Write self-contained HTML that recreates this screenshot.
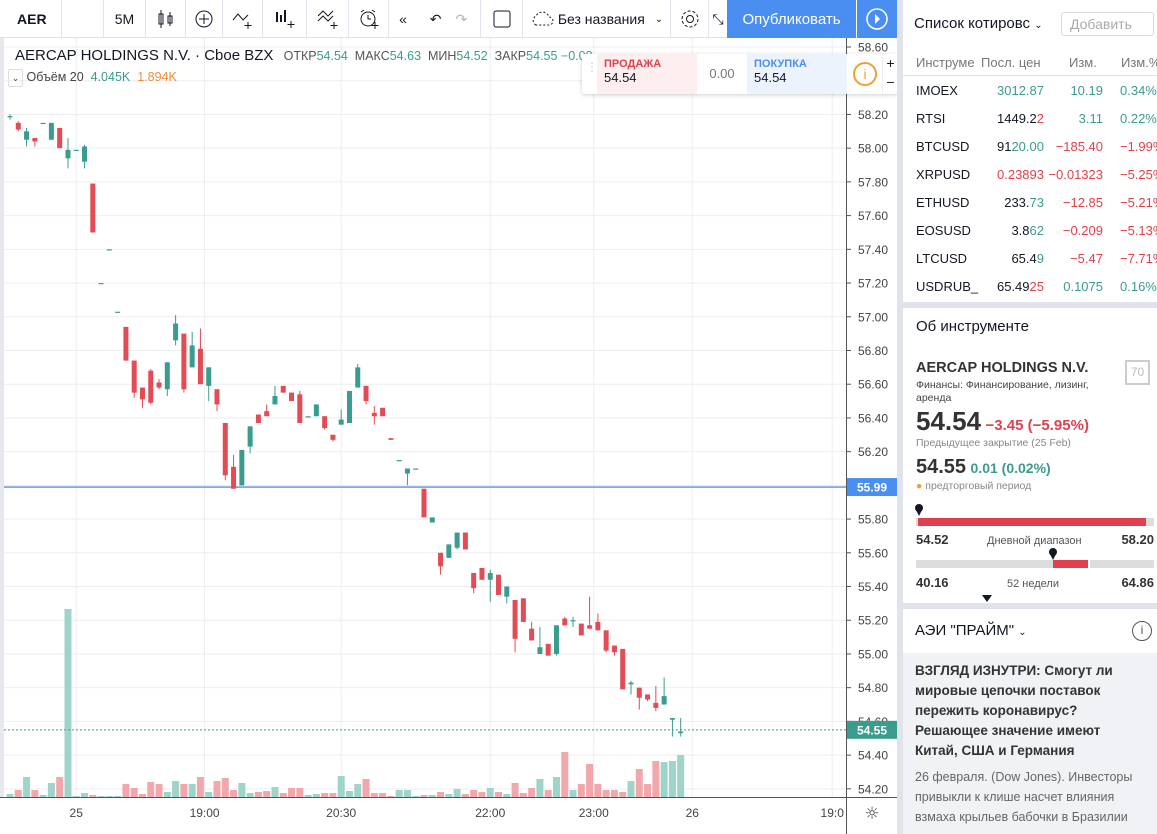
<!DOCTYPE html>
<html><head><meta charset="utf-8">
<style>
*{box-sizing:border-box;margin:0;padding:0}
body{width:1157px;height:834px;overflow:hidden;background:#fff;font-family:"Liberation Sans","Noto Sans CJK SC",sans-serif;color:#131722;position:relative}
.abs{position:absolute}
#toolbar{left:0;top:0;width:897px;height:38px;border-bottom:1px solid #e0e3eb;background:#fff}
.tb{position:absolute;top:0;height:38px;display:flex;align-items:center;justify-content:center;font-size:14px;color:#131722;border-right:1px solid #e0e3eb}
.sep{background:#e0e3eb}
.wl-row{position:absolute;left:0;width:257px;height:28px;font-size:13px}
.wl-row span{position:absolute;top:7px}
.g{color:#3a9c8e}.r{color:#e0414c}
</style></head><body>

<div id="toolbar" class="abs">
  <div class="tb" style="left:0;width:62px;font-weight:bold;justify-content:flex-start;padding-left:17px">AER</div>
  <div class="tb" style="left:103px;width:43px;border-left:1px solid #e0e3eb">5M</div>
  <div class="tb" style="left:146px;width:40px">
    <svg width="18" height="20"><rect x="2" y="5" width="4" height="10" fill="none" stroke="#131722"/><line x1="4" y1="1" x2="4" y2="19" stroke="#131722"/><rect x="11" y="7" width="4" height="7" fill="none" stroke="#131722"/><line x1="13" y1="3" x2="13" y2="17" stroke="#131722"/></svg></div>
  <div class="tb" style="left:186px;width:37px"><svg width="20" height="20"><circle cx="10" cy="10" r="8" fill="none" stroke="#131722"/><path d="M10 5v10M5 10h10" stroke="#131722"/></svg></div>
  <div class="tb" style="left:223px;width:40px"><svg width="24" height="22"><path d="M2 12l5-6 5 6 5-5" fill="none" stroke="#131722"/><path d="M17 14v7M13.5 17.5h7" stroke="#131722"/></svg></div>
  <div class="tb" style="left:263px;width:44px"><svg width="24" height="22"><path d="M4 4v10M8 7v7M12 2v12" stroke="#131722" stroke-width="2"/><path d="M18 13v7M14.5 16.5h7" stroke="#131722"/></svg></div>
  <div class="tb" style="left:307px;width:42px"><svg width="24" height="22"><path d="M2 8l5-5 5 5 5-5M2 13l5-5 5 5 5-5" fill="none" stroke="#131722"/><path d="M18 14v7M14.5 17.5h7" stroke="#131722"/></svg></div>
  <div class="tb" style="left:349px;width:40px"><svg width="22" height="22"><circle cx="10" cy="11" r="7" fill="none" stroke="#131722"/><path d="M3 4l3-2M17 4l-3-2M10 7v4h3" fill="none" stroke="#131722"/><path d="M17 14v7M13.5 17.5h7" stroke="#131722"/></svg></div>
  <div class="tb" style="left:389px;width:28px;border-right:none">«</div>
  <div class="tb" style="left:417px;width:64px;color:#131722"><span style="margin-right:14px">↶</span><span style="color:#b2b5be">↷</span></div>
  <div class="tb" style="left:481px;width:42px"><svg width="18" height="18"><rect x="1" y="1" width="16" height="16" rx="2" fill="none" stroke="#131722"/></svg></div>
  <div class="tb" style="left:523px;width:148px"><svg width="26" height="18"><path d="M6 15a5 5 0 0 1 0-9a7 7 0 0 1 13 1a4 4 0 0 1 0 8z" fill="none" stroke="#131722" stroke-dasharray="2 2"/></svg><span style="margin:0 10px 0 2px">Без названия</span><span style="font-size:10px">⌄</span></div>
  <div class="tb" style="left:671px;width:38px"><svg width="22" height="22"><circle cx="11" cy="11" r="3.5" fill="none" stroke="#131722"/><circle cx="11" cy="11" r="8" fill="none" stroke="#131722" stroke-dasharray="3 2"/></svg></div>
  <div class="tb" style="left:709px;width:18px;border-right:none">⤡</div>
  <div class="abs" style="left:727px;top:0;width:129px;height:38px;background:#4b8ef2;color:#fff;font-size:15px;display:flex;align-items:center;justify-content:center">Опубликовать</div>
  <div class="abs" style="left:857px;top:0;width:40px;height:38px;background:#4b8ef2;display:flex;align-items:center;justify-content:center"><svg width="24" height="24"><circle cx="12" cy="12" r="10" fill="none" stroke="#fff" stroke-width="1.5"/><path d="M10 7l5 5-5 5z" fill="#fff"/></svg></div>
</div>

<svg id="chart" class="abs" style="left:0;top:38px" width="897" height="796" viewBox="0 38 897 796"></svg>

<div class="abs" style="left:15px;top:47px;font-size:15px;white-space:nowrap">
  <span>AERCAP HOLDINGS N.V. · Cboe BZX</span>
  <span style="font-size:12.5px;color:#555;margin-left:6px">ОТКР<span class="g">54.54</span>&nbsp; МАКС<span class="g">54.63</span>&nbsp; МИН<span class="g">54.52</span>&nbsp; ЗАКР<span class="g">54.55</span> <span class="g">−0.08</span></span>
</div>
<div class="abs" style="left:8px;top:69px;font-size:12.5px;color:#444;white-space:nowrap">
  <span style="display:inline-block;width:15px;height:18px;border:1px solid #ddd;border-radius:2px;text-align:center;font-size:9px;line-height:16px">⌄</span> Объём 20 &nbsp;<span class="g">4.045K</span>&nbsp; <span style="color:#f28b3c">1.894K</span>
</div>

<div class="abs" style="left:582px;top:54px;width:316px;height:40px;background:#fff;box-shadow:0 1px 4px rgba(0,0,0,.2);border-radius:3px;font-size:12px">
  <div class="abs" style="left:4px;top:6px;color:#ccc;font-size:12px">⋮</div>
  <div class="abs" style="left:15px;top:0;width:100px;height:40px;background:#fdeef0;padding:4px 7px"><div style="color:#e0414c;font-weight:bold;font-size:11px">ПРОДАЖА</div><div style="font-size:13px">54.54</div></div>
  <div class="abs" style="left:115px;top:12px;width:50px;text-align:center;color:#777;font-size:13px">0.00</div>
  <div class="abs" style="left:165px;top:0;width:100px;height:40px;background:#ecf3fd;padding:4px 7px"><div style="color:#4b8ef2;font-weight:bold;font-size:11px">ПОКУПКА</div><div style="font-size:13px">54.54</div></div>
  <div class="abs" style="left:271px;top:8px;width:24px;height:24px;border:2px solid #f0a030;border-radius:50%;color:#f0a030;text-align:center;font-size:14px;line-height:20px">i</div>
  <div class="abs" style="left:300px;top:0;width:16px;height:40px;border-left:1px solid #eee;font-size:14px;text-align:center;line-height:19px">+<br>−</div>
</div>

<!-- right panel -->
<div class="abs sep" style="left:897px;top:0;width:6px;height:834px"></div>
<div class="abs" style="left:903px;top:0;width:254px;height:302px;background:#fff">
  <div class="abs" style="left:11px;top:15px;font-size:15px;white-space:nowrap">Список котировс <span style="font-size:10px">⌄</span></div>
  <div class="abs" style="left:158px;top:12px;width:93px;height:24px;border:1px solid #d6d8de;border-radius:3px;color:#aaa;font-size:14px;padding:3px 8px">Добавить</div>
  <div class="abs" style="left:0;top:48px;width:254px;height:28px;border-bottom:1px solid #e0e3eb;font-size:13px;color:#777">
    <span class="abs" style="left:13px;top:7px">Инструме</span><span class="abs" style="left:78px;top:7px">Посл. цен</span><span class="abs" style="left:166px;top:7px">Изм.</span><span class="abs" style="left:218px;top:7px">Изм.%</span>
  </div>
  <div id="wl"></div>
</div>
<div class="abs sep" style="left:903px;top:302px;width:254px;height:6px"></div>
<div class="abs" style="left:903px;top:308px;width:254px;height:295px;background:#fff">
  <div class="abs" style="left:13px;top:10px;font-size:15px">Об инструменте</div>
  <div class="abs" style="left:13px;top:52px;font-size:14.5px;font-weight:bold;color:#333">AERCAP HOLDINGS N.V.</div>
  <div class="abs" style="left:222px;top:52px;width:25px;height:25px;border:2px solid #ccc;color:#bbb;font-size:12px;text-align:center;line-height:21px">70</div>
  <div class="abs" style="left:13px;top:71px;font-size:10.5px;color:#444;line-height:13px;width:200px">Финансы: Финансирование, лизинг, аренда</div>
  <div class="abs" style="left:13px;top:98px;white-space:nowrap"><span style="font-size:26px;font-weight:bold;color:#333">54.54</span> <span style="font-size:15px;font-weight:bold;color:#e0414c">−3.45 (−5.95%)</span></div>
  <div class="abs" style="left:13px;top:129px;font-size:10.5px;color:#888">Предыдущее закрытие (25 Feb)</div>
  <div class="abs" style="left:13px;top:148px;white-space:nowrap"><span style="font-size:20px;font-weight:bold;color:#333">54.55</span> <span style="font-size:14px;font-weight:bold;color:#3a9c8e">0.01 (0.02%)</span></div>
  <div class="abs" style="left:13px;top:172px;font-size:10.5px;color:#888"><span style="color:#f0a030">●</span> предторговый период</div>
  <svg class="abs" style="left:0;top:190px" width="254" height="105">
    <circle cx="16" cy="10" r="4" fill="#131722"/><path d="M13 12l3 6 3-6z" fill="#131722"/>
    <rect x="13" y="20" width="238" height="8" fill="#ddd"/><rect x="15" y="20" width="228" height="8" fill="#e0414c"/>
    <text x="13" y="46" font-size="13" font-weight="bold" fill="#333" font-family="Liberation Sans">54.52</text>
    <text x="84" y="46" font-size="11" fill="#555" font-family="Liberation Sans">Дневной диапазон</text>
    <text x="251" y="46" font-size="13" font-weight="bold" fill="#333" text-anchor="end" font-family="Liberation Sans">58.20</text>
    <circle cx="150" cy="54" r="4" fill="#131722"/><path d="M147 56l3 6 3-6z" fill="#131722"/>
    <rect x="13" y="62" width="238" height="8" fill="#ddd"/><rect x="150" y="62" width="35" height="8" fill="#e0414c"/><rect x="185" y="62" width="2" height="8" fill="#fff"/>
    <text x="13" y="89" font-size="13" font-weight="bold" fill="#333" font-family="Liberation Sans">40.16</text>
    <text x="104" y="89" font-size="11" fill="#555" font-family="Liberation Sans">52 недели</text>
    <text x="251" y="89" font-size="13" font-weight="bold" fill="#333" text-anchor="end" font-family="Liberation Sans">64.86</text>
    <path d="M79 97h10l-5 7z" fill="#131722"/>
  </svg>
</div>
<div class="abs sep" style="left:903px;top:603px;width:254px;height:6px"></div>
<div class="abs" style="left:903px;top:609px;width:254px;height:225px;background:#fff">
  <div class="abs" style="left:12px;top:13px;font-size:15px">АЭИ "ПРАЙМ" <span style="font-size:10px">⌄</span></div>
  <div class="abs" style="left:229px;top:12px;width:20px;height:20px;border:1.5px solid #555;border-radius:50%;text-align:center;font-size:12px;line-height:17px;color:#555">i</div>
  <div class="abs" style="left:0;top:44px;width:254px;height:181px;background:#f1f2f5;padding:8px 12px">
    <div style="font-size:13.5px;font-weight:bold;color:#333;line-height:20px">ВЗГЛЯД ИЗНУТРИ: Смогут ли мировые цепочки поставок пережить коронавирус? Решающее значение имеют Китай, США и Германия</div>
    <div style="font-size:12.5px;color:#666;line-height:20px;margin-top:6px">26 февраля. (Dow Jones). Инвесторы привыкли к клише насчет влияния взмаха крыльев бабочки в Бразилии</div>
  </div>
</div>

<script>
// ---- chart data ----
const opens  = [58.19,58.15,58.05,58.06,58.15,58.05,58.12,57.94,57.99,57.92,57.79,57.20,57.40,57.03,56.94,56.74,56.58,56.68,56.61,56.57,56.86,56.90,56.70,56.81,56.59,56.57,56.37,56.11,56.00,56.23,56.42,56.44,56.48,56.59,56.55,56.54,56.41,56.41,56.41,56.30,56.36,56.37,56.58,56.59,56.43,56.46,56.28,56.15,56.07,56.10,55.98,55.78,55.60,55.57,55.63,55.72,55.48,55.51,55.44,55.47,55.34,55.32,55.33,55.15,55.00,55.06,55.00,55.21,55.20,55.18,55.17,55.19,55.14,55.05,55.03,54.82,54.80,54.76,54.71,54.70,54.61,54.53];
const highs  = [58.20,58.16,58.12,58.06,58.15,58.15,58.12,58.06,57.99,58.02,57.79,57.20,57.40,57.03,56.94,56.74,56.58,56.69,56.63,56.73,57.01,56.90,56.91,56.93,56.70,56.57,56.37,56.18,56.21,56.35,56.42,56.48,56.59,56.59,56.55,56.56,56.41,56.48,56.41,56.30,56.45,56.56,56.72,56.59,56.47,56.46,56.28,56.15,56.10,56.10,55.98,55.81,55.60,55.65,55.72,55.72,55.48,55.51,55.50,55.47,55.40,55.32,55.33,55.19,55.16,55.06,55.17,55.22,55.22,55.18,55.34,55.24,55.14,55.05,55.03,54.84,54.80,54.76,54.81,54.86,54.62,54.62];
const lows   = [58.17,58.10,58.01,58.01,58.15,58.05,58.00,57.88,57.99,57.88,57.50,57.20,57.40,57.03,56.74,56.52,56.46,56.48,56.57,56.53,56.83,56.55,56.70,56.60,56.50,56.44,56.03,55.98,56.00,56.19,56.37,56.41,56.48,56.55,56.50,56.37,56.41,56.41,56.33,56.26,56.36,56.37,56.58,56.48,56.36,56.41,56.27,56.15,56.00,56.10,55.81,55.78,55.47,55.57,55.62,55.62,55.36,55.44,55.31,55.35,55.30,55.01,55.19,55.08,55.00,54.99,54.99,55.17,55.16,55.11,55.15,55.14,55.01,54.99,54.79,54.76,54.67,54.72,54.66,54.70,54.51,54.51];
const closes = [58.19,58.11,58.10,58.04,58.15,58.15,58.00,57.99,57.99,58.01,57.50,57.20,57.40,57.03,56.74,56.55,56.51,56.49,56.58,56.73,56.96,56.57,56.83,56.60,56.70,56.48,56.06,55.98,56.21,56.35,56.37,56.41,56.53,56.55,56.50,56.37,56.41,56.48,56.34,56.27,56.39,56.56,56.70,56.50,56.41,56.41,56.27,56.15,56.10,56.10,55.81,55.81,55.52,55.65,55.72,55.62,55.39,55.44,55.48,55.35,55.40,55.09,55.19,55.08,55.04,54.99,55.17,55.17,55.20,55.11,55.15,55.14,55.02,55.01,54.79,54.83,54.74,54.73,54.68,54.75,54.62,54.54];
const volumes = [3,7,20,7,2,14,20,188,1,4,2,1,1,1,13,9,3,15,13,5,16,13,13,20,5,16,19,7,14,4,5,6,10,4,9,9,2,3,4,4,21,6,13,18,4,4,1,7,7,1,2,2,5,3,8,3,7,5,9,5,3,14,4,9,18,7,20,45,7,13,33,13,7,7,5,16,28,13,36,35,36,42];
const priceTicks = ["58.60","58.40","58.20","58.00","57.80","57.60","57.40","57.20","57.00","56.80","56.60","56.40","56.20","56.00","55.80","55.60","55.40","55.20","55.00","54.80","54.60","54.40","54.20"];
const timeLabels = ["25","19:00","20:30","22:00","23:00","26","19:0"];
const timeLabelBars = [8,23.5,40,58,70.5,82.4,99.3];
const hLinePrice = 55.99;
const lastPrice = 54.55;

// ---- axes ----
const NS='http://www.w3.org/2000/svg';
const svg=document.getElementById('chart');
const yP = p => 47 + (58.6 - p) * 168.6;
const xI = i => 10 + i * 8.28;
const volBase = 797, volScale = 188 / Math.max(...volumes);
const yV = v => volBase - v * volScale;
const UP='#3a9c8e', DN='#e34b55';
function mk(tag, attrs){const e=document.createElementNS(NS,tag);for(const k in attrs)e.setAttribute(k,attrs[k]);svg.appendChild(e);return e;}

priceTicks.forEach((t)=>{
  const y=yP(parseFloat(t));
  const l=mk('line',{x1:0,x2:846,y1:y,y2:y,stroke:'#eceef2','stroke-width':1});
  
  
});
timeLabels.forEach((t,i)=>{
  const x=xI(timeLabelBars[i]);
  const l=mk('line',{x1:x,x2:x,y1:38,y2:797,stroke:'#eceef2','stroke-width':1});
  
  
});
mk('rect',{x:0,y:38,width:4,height:760,fill:'#e6e8ee'});

volumes.forEach((v,i)=>{
  const up=closes[i]>=opens[i];
  const r=mk('rect',{x:xI(i)-3.5,y:yV(v),width:7,height:v*volScale,fill:up?'#9fd4cb':'#f2a8ab'});
  
  
});

const hl=mk('line',{x1:4,x2:846,y1:yP(hLinePrice),y2:yP(hLinePrice),stroke:'#5b8fd6','stroke-width':1.3});



opens.forEach((o,i)=>{
  const c=closes[i],up=c>=o,col=up?UP:DN,x=xI(i);
  const w=mk('line',{x1:x,x2:x,y1:yP(highs[i]),y2:yP(lows[i]),stroke:col,'stroke-width':1});
  
  
  const top=yP(Math.max(o,c)),h=Math.max(1.2,yP(Math.min(o,c))-top);
  const b=mk('rect',{x:x-2.5,y:top,width:5,height:h,fill:col});
  
  
});

const lp=mk('line',{x1:4,x2:846,y1:yP(lastPrice),y2:yP(lastPrice),stroke:UP,'stroke-width':1,'stroke-dasharray':'2 2'});



mk('rect',{x:846,y:38,width:51,height:760,fill:'#fff'});
mk('line',{x1:846.5,x2:846.5,y1:38,y2:834,stroke:'#555','stroke-width':1});
priceTicks.forEach((t)=>{
  const y=yP(parseFloat(t));
  mk('line',{x1:846,x2:851,y1:y,y2:y,stroke:'#555'});
  const tx=mk('text',{x:858,y:y+4.5,'font-size':12,fill:'#444','font-family':'Liberation Sans'});
  tx.textContent=t;
  
  
});
function badge(p,col,name){
  const y=yP(p);
  const r=mk('rect',{x:847,y:y-9,width:50,height:18,fill:col});
  
  
  const t=mk('text',{x:857,y:y+4.5,'font-size':12,'font-weight':'bold',fill:'#fff','font-family':'Liberation Sans'});
  t.textContent=p.toFixed(2);
}
badge(hLinePrice,'#4b8ef2','hline-price-badge');
badge(lastPrice,'#3a9c8e','last-price-badge');

mk('rect',{x:0,y:797,width:897,height:37,fill:'#fff'});
mk('line',{x1:0,x2:897,y1:797.5,y2:797.5,stroke:'#555'});
timeLabels.forEach((t,i)=>{
  const x=xI(timeLabelBars[i]);
  const tx=mk('text',{x:x,y:817,'font-size':12,fill:'#444','text-anchor':'middle','font-family':'Liberation Sans'});
  tx.textContent=t;
  
  
});
mk('rect',{x:846,y:798,width:51,height:36,fill:'#fff'});
mk('line',{x1:846.5,x2:846.5,y1:797,y2:834,stroke:'#555'});
const gear=mk('text',{x:872,y:819,'font-size':17,fill:'#444','text-anchor':'middle','font-family':'DejaVu Sans'});
gear.textContent='☼';



const wlNames=["IMOEX","RTSI","BTCUSD","XRPUSD","ETHUSD","EOSUSD","LTCUSD","USDRUB_"];
const wlLast=[["3012.87","","g"],["1449.2","2","r"],["91","20.00","g"],["","0.23893","r"],["233.","73","g"],["3.8","62","g"],["65.4","9","g"],["65.49","25","r"]];
const wlChg=["10.19","3.11","−185.40","−0.01323","−12.85","−0.209","−5.47","0.1075"];
const wlPct=["0.34%","0.22%","−1.99%","−5.25%","−5.21%","−5.13%","−7.71%","0.16%"];
const wl=document.getElementById('wl');
wlNames.forEach((n,i)=>{
  const row=document.createElement('div');
  row.className='wl-row';
  row.style.top=(76+i*28)+'px';
  
  
  const c=wlChg[i].startsWith('−')?'r':'g';
  const L=wlLast[i];
  const lastHtml= i===0?'<span class="g" style="position:static">3012.87</span>':(L[0]+'<span class="'+L[2]+'" style="position:static">'+L[1]+'</span>');
  row.innerHTML='<span style="left:13px">'+n+'</span><span style="right:116px">'+lastHtml+'</span><span class="'+c+'" style="right:57px">'+wlChg[i]+'</span><span class="'+c+'" style="left:217px;white-space:nowrap">'+wlPct[i]+'</span>';
  wl.appendChild(row);
});
</script>
</body></html>
